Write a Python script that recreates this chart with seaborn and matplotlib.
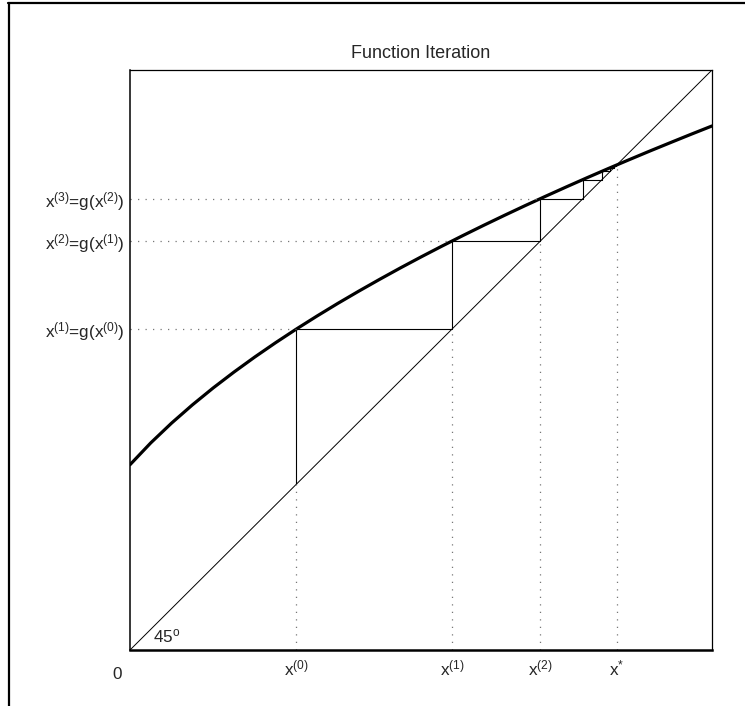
import matplotlib
matplotlib.use("Agg")
import matplotlib.pyplot as plt
from matplotlib.lines import Line2D
import seaborn as sns
import pandas as pd

# ---- data ----
curve_x = [0.00, 0.05, 0.10, 0.15, 0.20, 0.25, 0.30, 0.35, 0.40, 0.45,
           0.50, 0.55, 0.60, 0.65, 0.70, 0.75, 0.80, 0.85, 0.90, 0.95,
           1.00, 1.05, 1.10, 1.15, 1.20, 1.25, 1.30, 1.35, 1.40]
curve_y = [0.4472, 0.5000, 0.5477, 0.5916, 0.6325, 0.6708, 0.7071, 0.7416, 0.7746, 0.8062,
           0.8367, 0.8660, 0.8944, 0.9220, 0.9487, 0.9747, 1.0000, 1.0247, 1.0488, 1.0724,
           1.0954, 1.1180, 1.1402, 1.1619, 1.1832, 1.2042, 1.2247, 1.2450, 1.2649]
iterates = [0.4000, 0.7746, 0.9872, 1.0896, 1.1356, 1.1557, 1.1643, 1.1680, 1.1696, 1.1703]
x_star = 1.1708
axis_max = 1.4

x_tick_labels = ["x$^{(0)}$", "x$^{(1)}$", "x$^{(2)}$", "x$^{*}$"]
y_tick_labels = ["x$^{(1)}$=g(x$^{(0)}$)", "x$^{(2)}$=g(x$^{(1)}$)", "x$^{(3)}$=g(x$^{(2)}$)"]
title = "Function Iteration"

# ---- style ----
sns.set_style("white")
plt.rcParams["font.family"] = ["Liberation Sans", "DejaVu Sans"]
plt.rcParams["mathtext.fontset"] = "custom"
plt.rcParams["mathtext.rm"] = "Liberation Sans"
plt.rcParams["mathtext.it"] = "Liberation Sans"
plt.rcParams["mathtext.default"] = "regular"

W, H = 745, 706
fig = plt.figure(figsize=(W / 100, H / 100), dpi=100)
ax = fig.add_axes([130 / W, 1 - 650 / H, 582 / W, 580 / H])

ax.set_xlim(0, axis_max)
ax.set_ylim(0, axis_max)

df = pd.DataFrame({"x": curve_x, "g": curve_y})
sns.lineplot(data=df, x="x", y="g", ax=ax, color="black", linewidth=2.3)
sns.lineplot(x=[0, axis_max], y=[0, axis_max], ax=ax, color="black", linewidth=0.7)

# staircase
sx, sy = [iterates[0]], [iterates[0]]
for k in range(len(iterates) - 1):
    sx += [iterates[k], iterates[k + 1]]
    sy += [iterates[k + 1], iterates[k + 1]]
ax.plot(sx, sy, color="black", linewidth=0.8)

dot_kw = dict(color="#777777", linewidth=0.9, linestyle=(0, (1, 5)))
# horizontal dotted guides
for k in range(1, 4):
    ax.plot([0, iterates[k - 1]], [iterates[k], iterates[k]], **dot_kw)
# vertical dotted guides
xt = [iterates[0], iterates[1], iterates[2], x_star]
for v in xt:
    ax.plot([v, v], [0, v], **dot_kw)

fs = 12.3
ax.set_xticks(xt)
ax.set_xticklabels(x_tick_labels, fontsize=fs)
ax.set_yticks(iterates[1:4])
ax.set_yticklabels(y_tick_labels, fontsize=fs)
ax.tick_params(axis="y", length=0, pad=4)
ax.tick_params(axis="x", length=0, pad=6)
ax.text(-0.02, -0.06, "0", ha="right", va="center", fontsize=fs,
        transform=ax.transData, clip_on=False)
ax.text(0.055, 0.012, "45$^{\\rm o}$", ha="left", va="bottom", fontsize=fs)
ax.set_xlabel("")
ax.set_ylabel("")
ax.set_title(title, fontsize=13, pad=9)

for side in ["top", "right", "left", "bottom"]:
    ax.spines[side].set_visible(True)
    ax.spines[side].set_color("black")
ax.spines["top"].set_linewidth(0.9)
ax.spines["right"].set_linewidth(0.9)
ax.spines["left"].set_linewidth(1.1)
ax.spines["bottom"].set_linewidth(1.8)

# figure frame (left and top edges)
fig.add_artist(Line2D([9 / W, 9 / W], [0, 1 - 3 / H], color="black", linewidth=1.6,
                      transform=fig.transFigure))
fig.add_artist(Line2D([8 / W, 1], [1 - 3 / H, 1 - 3 / H], color="black", linewidth=1.6,
                      transform=fig.transFigure))

fig.savefig("out.png", dpi=100)
